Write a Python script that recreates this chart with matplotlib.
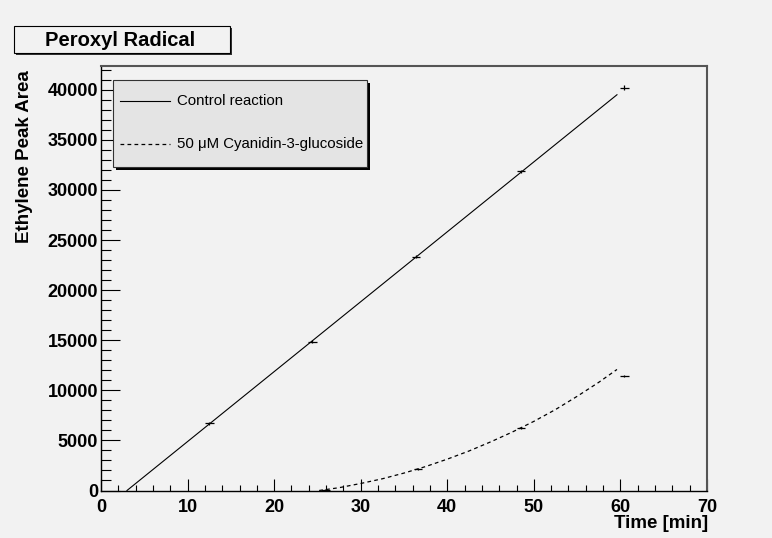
import matplotlib
matplotlib.use("Agg")
import matplotlib.pyplot as plt
from matplotlib.patches import Rectangle
from matplotlib.lines import Line2D
from matplotlib.ticker import MultipleLocator

plt.rcParams['font.family'] = ['Liberation Sans', 'DejaVu Sans']

# Measured ethylene peak areas
control_time = [12.5, 24.4, 36.4, 48.5, 60.45]
control_area = [6700, 14850, 23350, 31850, 40200]
control_yerr = [150, 150, 150, 150, 250]

cyanidin_time = [25.9, 36.6, 48.5, 60.45]
cyanidin_area = [50, 2130, 6270, 11450]
cyanidin_yerr = [100, 100, 100, 100]

# Fitted curves
control_fit_time = [3.0, 59.6]
control_fit_area = [0, 39500]

cyanidin_fit_time = [25.2, 27.5, 30, 32.5, 35, 37.5, 40, 42.5, 45, 47.5, 50,
                     52.5, 55, 57.5, 59.6]
cyanidin_fit_area = [0, 280, 700, 1170, 1740, 2390, 3130, 3940, 4850, 5830,
                     6900, 8080, 9400, 10800, 12080]

x_ticks = [0, 10, 20, 30, 40, 50, 60, 70]
y_ticks = [0, 5000, 10000, 15000, 20000, 25000, 30000, 35000, 40000]

W, H = 772, 538
BG = '#f2f2f2'
TICK_FS = 13
TITLE_FS = 13.5


def fx(px):
    return px / W


def fy(py):
    return 1 - py / H


fig = plt.figure(figsize=(W / 100, H / 100), dpi=100, facecolor=BG)
ax = fig.add_axes([fx(101), fy(490.5), fx(707) - fx(101), fy(65.7) - fy(490.5)])
ax.set_facecolor(BG)

ax.plot(control_fit_time, control_fit_area, color='black', lw=0.8)
ax.plot(cyanidin_fit_time, cyanidin_fit_area, color='black', lw=0.9,
        linestyle=(0, (3.0, 2.6)))
ax.errorbar(control_time, control_area, xerr=0.5, yerr=control_yerr,
            fmt='none', ecolor='black', elinewidth=0.9, capsize=0)
ax.errorbar(cyanidin_time, cyanidin_area, xerr=0.5, yerr=cyanidin_yerr,
            fmt='none', ecolor='black', elinewidth=0.9, capsize=0)

ax.set_xlim(0, 70)
ax.set_ylim(0, 42400)
ax.set_xticks(x_ticks)
ax.set_xticklabels([str(v) for v in x_ticks])
ax.set_yticks(y_ticks)
ax.set_yticklabels([str(v) for v in y_ticks])
ax.xaxis.set_minor_locator(MultipleLocator(2))
ax.yaxis.set_minor_locator(MultipleLocator(1000))

ax.tick_params(axis='x', which='major', direction='in', length=8.4, width=0.8,
               pad=6, labelsize=TICK_FS)
ax.tick_params(axis='x', which='minor', direction='in', length=4.1, width=0.8)
ax.tick_params(axis='y', which='major', direction='in', length=13.7, width=0.8,
               pad=2, labelsize=TICK_FS)
ax.tick_params(axis='y', which='minor', direction='in', length=7.2, width=0.8)
for lab in ax.get_xticklabels() + ax.get_yticklabels():
    lab.set_fontweight('bold')

for side in ('left', 'bottom'):
    ax.spines[side].set_color('black')
    ax.spines[side].set_linewidth(1.0)
for side in ('top', 'right'):
    ax.spines[side].set_color('#555555')
    ax.spines[side].set_linewidth(1.5)

# Axis titles
fig.text(fx(708), fy(523), 'Time [min]', ha='right', va='center',
         fontsize=TITLE_FS, fontweight='bold')
fig.text(fx(25), fy(70), 'Ethylene Peak Area', ha='center', va='top',
         rotation=90, fontsize=TITLE_FS, fontweight='bold')

# Title box
fig.patches.append(Rectangle((fx(16), fy(55)), fx(216), fy(0) - fy(26.5),
                             transform=fig.transFigure, facecolor='#333333',
                             edgecolor='none', zorder=1))
fig.patches.append(Rectangle((fx(14), fy(53)), fx(216), fy(0) - fy(26.5),
                             transform=fig.transFigure, facecolor=BG,
                             edgecolor='black', lw=0.8, zorder=2))
fig.text(fx(120), fy(40), 'Peroxyl Radical', ha='center', va='center',
         fontsize=14.5, fontweight='bold', zorder=3)

# Legend box
fig.patches.append(Rectangle((fx(116), fy(170)), fx(254), fy(0) - fy(87),
                             transform=fig.transFigure, facecolor='black',
                             edgecolor='none', zorder=4))
fig.patches.append(Rectangle((fx(113), fy(167)), fx(254), fy(0) - fy(87),
                             transform=fig.transFigure, facecolor='#e4e4e4',
                             edgecolor='#333333', lw=0.8, zorder=5))
fig.lines.append(Line2D([fx(120), fx(170)], [fy(101), fy(101)],
                        transform=fig.transFigure, color='black', lw=0.8,
                        zorder=6))
fig.lines.append(Line2D([fx(120), fx(170)], [fy(144), fy(144)],
                        transform=fig.transFigure, color='black', lw=0.9,
                        linestyle=(0, (3.0, 2.6)), zorder=6))
fig.text(fx(177), fy(101), 'Control reaction', ha='left', va='center',
         fontsize=10.8, zorder=7)
fig.text(fx(177), fy(144), '50 \u03bcM Cyanidin-3-glucoside', ha='left',
         va='center', fontsize=10.8, zorder=7)

fig.savefig('out.png', dpi=100, facecolor=BG)
